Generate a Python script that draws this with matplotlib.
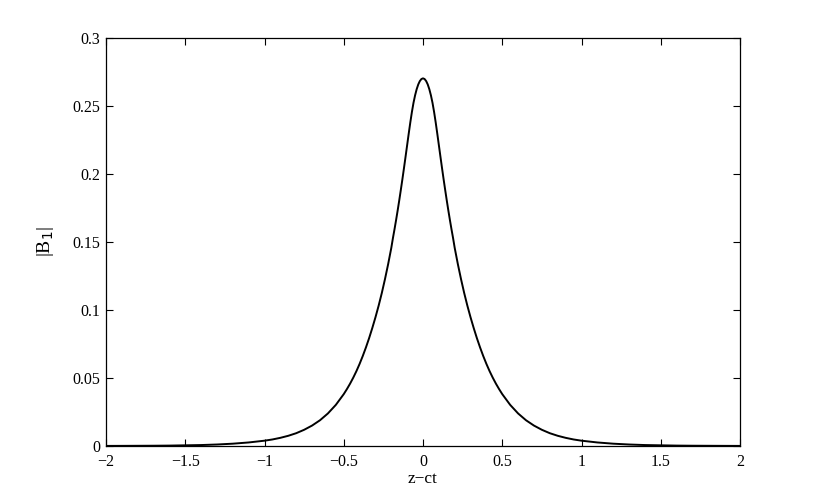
import numpy as np
import matplotlib
matplotlib.use('Agg')
import matplotlib.pyplot as plt

# values (right half, curve is symmetric about z-ct = 0)
x_half = [0.00, 0.01, 0.02, 0.03, 0.04, 0.05, 0.06, 0.07, 0.08, 0.09,
          0.10, 0.11, 0.12, 0.13, 0.14, 0.15, 0.16, 0.17, 0.18, 0.19,
          0.20, 0.22, 0.24, 0.26, 0.28, 0.30, 0.32, 0.34, 0.36, 0.38,
          0.40, 0.42, 0.44, 0.46, 0.48, 0.50, 0.55, 0.60, 0.65, 0.70,
          0.75, 0.80, 0.85, 0.90, 0.95, 1.00, 1.10, 1.20, 1.30, 1.40,
          1.50, 1.60, 1.70, 1.80, 1.90, 2.00]
b_half = [0.2700, 0.2695, 0.2680, 0.2655, 0.2620, 0.2575, 0.2520, 0.2453, 0.2377, 0.2295,
          0.2210, 0.2125, 0.2041, 0.1959, 0.1880, 0.1803, 0.1729, 0.1658, 0.1590, 0.1525,
          0.1455, 0.1335, 0.1225, 0.1123, 0.1030, 0.0945, 0.0866, 0.0792, 0.0724, 0.0661,
          0.0603, 0.0550, 0.0502, 0.0458, 0.0418, 0.0381, 0.0302, 0.0239, 0.0189, 0.0150,
          0.0119, 0.0094, 0.0075, 0.0060, 0.0048, 0.0039, 0.0026, 0.0017, 0.0011, 0.0007,
          0.0005, 0.0003, 0.0002, 0.00015, 0.0001, 0.00007]

xticks = [-2, -1.5, -1, -0.5, 0, 0.5, 1, 1.5, 2]
xticklabels = ['\u22122', '\u22121.5', '\u22121', '\u22120.5', '0', '0.5', '1', '1.5', '2']
yticks = [0, 0.05, 0.1, 0.15, 0.2, 0.25, 0.3]
yticklabels = ['0', '0.05', '0.1', '0.15', '0.2', '0.25', '0.3']

x = np.concatenate([-np.array(x_half[::-1]), np.array(x_half[1:])])
b = np.concatenate([np.array(b_half[::-1]), np.array(b_half[1:])])

plt.rcParams['font.family'] = ['Liberation Serif', 'DejaVu Serif']

fig = plt.figure(figsize=(8.17, 5.03), dpi=100)
ax = fig.add_axes([106/817, 57/503, 634/817, 408.5/503])
ax.plot(x, b, color='black', lw=1.4, solid_joinstyle='round')

ax.set_xlim(-2, 2)
ax.set_ylim(0, 0.3)
ax.set_xticks(xticks)
ax.set_xticklabels(xticklabels)
ax.set_yticks(yticks)
ax.set_yticklabels(yticklabels)
ax.tick_params(direction='in', length=5, width=0.8, top=True, right=True,
               labelsize=11.5)
ax.tick_params(axis='x', pad=6)
ax.tick_params(axis='y', pad=4)
for s in ax.spines.values():
    s.set_linewidth(0.9)

ax.set_xlabel('z\u2212ct', fontsize=12.5)
ax.xaxis.set_label_coords(0.5, -0.061)
ax.set_ylabel('|B$_1$|', fontsize=14, labelpad=12)

fig.savefig('out.png', dpi=100)
